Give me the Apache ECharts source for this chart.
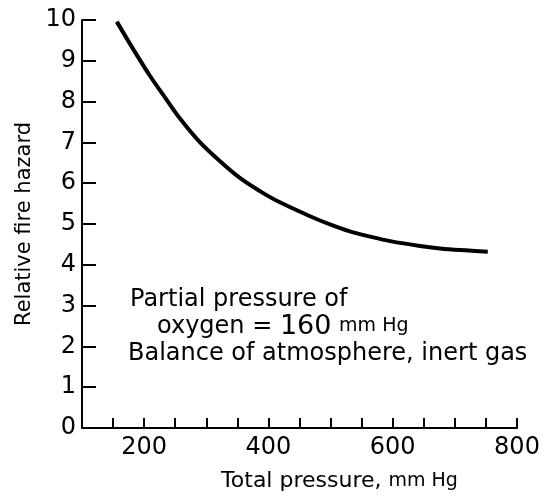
<!DOCTYPE html>
<html>
<head>
<meta charset="utf-8">
<script src="https://cdn.jsdelivr.net/npm/echarts@6/dist/echarts.min.js"></script>
<style>html,body{margin:0;padding:0;background:#fff;}#c{width:555px;height:497px;}</style>
</head>
<body>
<div id="c"></div>
<script>
var pressure = [156, 183, 209, 236, 258, 290, 322, 354, 387, 416, 467, 499, 531, 564, 596, 644, 676, 708, 753];
var hazard   = [9.96, 9.27, 8.64, 8.05, 7.58, 7.00, 6.54, 6.13, 5.80, 5.55, 5.19, 4.99, 4.82, 4.69, 4.58, 4.46, 4.40, 4.36, 4.32];
var xLabels = [200, 400, 600, 800];
var yTicks = [0,1,2,3,4,5,6,7,8,9,10];
var noteLines = ['Partial pressure of', 'oxygen', '160', 'mm Hg', 'Balance of atmosphere, inert gas'];

var FONT = 'DejaVu Sans';
var chart = echarts.init(document.getElementById('c'), null, {renderer: 'canvas'});
chart.setOption({
  backgroundColor: '#fff',
  animation: false,
  grid: {left: 82, right: 38, top: 20, bottom: 68},
  xAxis: {
    type: 'value', min: 100, max: 800, interval: 50,
    name: 'Total pressure, {s|mm Hg}', nameLocation: 'middle', nameGap: 42,
    nameTextStyle: {fontFamily: FONT, fontSize: 22, color: '#000', padding: [0, 0, 0, 80],
      rich: {s: {fontFamily: FONT, fontSize: 19, color: '#000'}}},
    axisLine: {show: true, lineStyle: {color: '#000', width: 2}},
    axisTick: {show: true, inside: true, length: 10, lineStyle: {color: '#000', width: 2}},
    axisLabel: {fontFamily: FONT, fontSize: 24, color: '#000', margin: 8,
      formatter: function (v) { return xLabels.indexOf(v) >= 0 ? String(v) : ''; }},
    splitLine: {show: false}
  },
  yAxis: {
    type: 'value', min: 0, max: 10, interval: 1,
    name: 'Relative fire hazard', nameLocation: 'middle', nameGap: 40, nameRotate: 90,
    nameTextStyle: {fontFamily: FONT, fontSize: 21, color: '#000'},
    axisLine: {show: true, lineStyle: {color: '#000', width: 2}},
    axisTick: {show: true, inside: true, length: 14, lineStyle: {color: '#000', width: 2}},
    axisLabel: {fontFamily: FONT, fontSize: 24, color: '#000', margin: 6,
      formatter: function (v) { return yTicks.indexOf(v) >= 0 ? String(v) : ''; }},
    splitLine: {show: false}
  },
  series: [{
    type: 'line', smooth: 0.35, showSymbol: false,
    data: pressure.map(function (p, i) { return [p, hazard[i]]; }),
    lineStyle: {color: '#000', width: 4}
  }],
  graphic: [
    {type: 'text', left: 130, top: 288, style: {text: noteLines[0], font: '24px "' + FONT + '"', fill: '#000'}},
    {type: 'text', left: 157, top: 313, style: {
      text: noteLines[1] + ' = {b|' + noteLines[2] + '} {s|' + noteLines[3] + '}',
      font: '24px "' + FONT + '"', fill: '#000',
      rich: {b: {fontFamily: FONT, fontSize: 27, fill: '#000'}, s: {fontFamily: FONT, fontSize: 19, fill: '#000'}}}},
    {type: 'text', left: 128, top: 342, style: {text: noteLines[4], font: '24px "' + FONT + '"', fill: '#000'}}
  ]
});
</script>
</body>
</html>
